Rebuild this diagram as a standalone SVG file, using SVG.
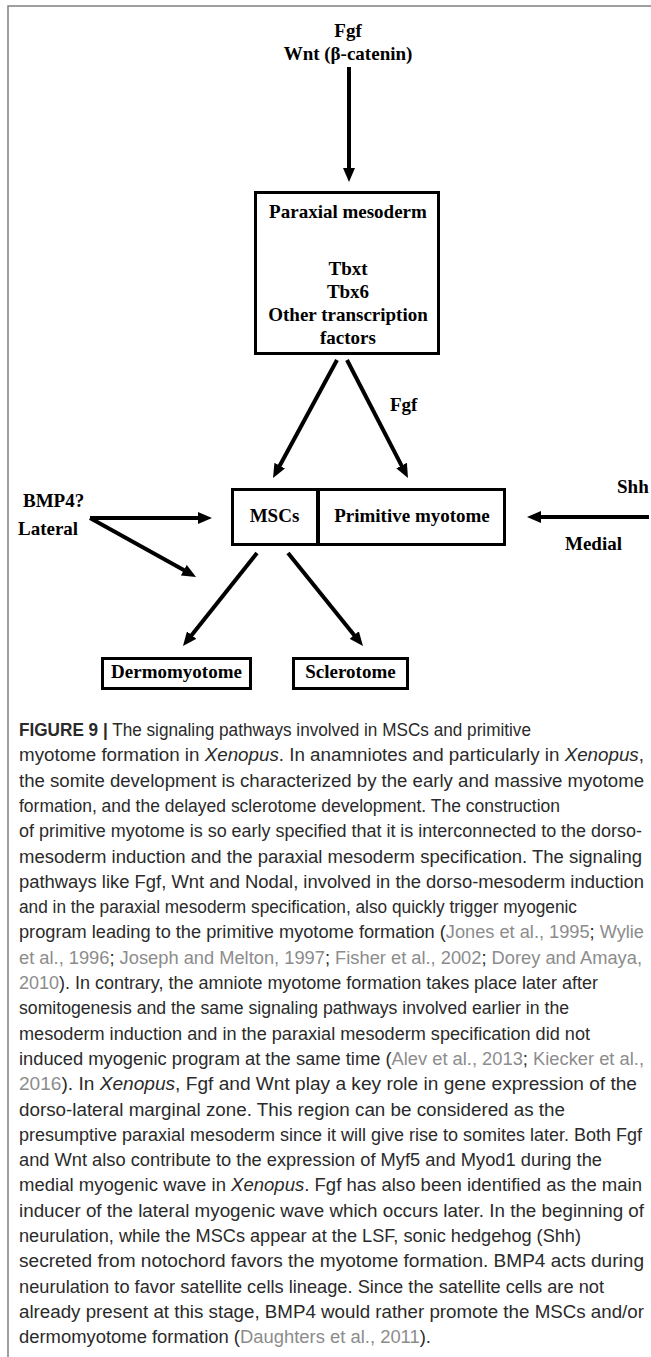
<svg xmlns="http://www.w3.org/2000/svg" width="651" height="1357" viewBox="0 0 651 1357">
<style>
.lbl{font-family:"Liberation Serif","Times New Roman",serif;font-weight:bold;font-size:19px;fill:#000}
.mid{text-anchor:middle}
.box{fill:#fff;stroke:#000;stroke-width:3}
.conn{stroke:#000;stroke-width:4;fill:none;marker-end:url(#ah)}
.cap{font-family:"Liberation Sans",Arial,sans-serif;font-size:17.5px;fill:#2a2a2a}
.ref{fill:#8c8c8c}
.it{font-style:italic}
.frame{stroke:#808080;stroke-width:1.5;fill:none}
</style>
<defs>
<marker id="ah" markerUnits="userSpaceOnUse" markerWidth="14" markerHeight="12" refX="4" refY="6" orient="auto">
<path d="M0,0 L14,6 L0,12 z" fill="#000"/>
</marker>
</defs>
<path class="frame" d="M651,6 H8 V1357"/>
<g id="connectors">
<line class="conn" x1="349" y1="67" x2="349" y2="172"/>
<line class="conn" x1="337" y1="360" x2="277.8" y2="469.2"/>
<line class="conn" x1="347" y1="360" x2="403.4" y2="469.1"/>
<line class="conn" x1="90" y1="518" x2="202" y2="518"/>
<line class="conn" x1="90" y1="518" x2="187.3" y2="572.1"/>
<line class="conn" x1="649" y1="517" x2="537" y2="517"/>
<line class="conn" x1="257" y1="553" x2="189.2" y2="638.2"/>
<line class="conn" x1="288" y1="553" x2="356.7" y2="638.2"/>
</g>
<g id="top-signals">
<text class="lbl mid" x="348" y="37">Fgf</text>
<text class="lbl mid" x="348" y="60">Wnt (β-catenin)</text>
</g>
<g id="paraxial-mesoderm">
<rect class="box" x="255.5" y="192.5" width="183" height="161"/>
<text class="lbl mid" x="348" y="218">Paraxial mesoderm</text>
<text class="lbl mid" x="348" y="275">Tbxt</text>
<text class="lbl mid" x="348" y="298">Tbx6</text>
<text class="lbl mid" x="348" y="321">Other transcription</text>
<text class="lbl mid" x="348" y="344">factors</text>
</g>
<g id="fgf-label">
<text class="lbl" x="390" y="411">Fgf</text>
</g>
<g id="msc-myotome">
<rect class="box" x="232.5" y="489.5" width="272" height="55"/>
<line x1="318" y1="489" x2="318" y2="546" stroke="#000" stroke-width="4"/>
<text class="lbl mid" x="274.5" y="522">MSCs</text>
<text class="lbl mid" x="412" y="522">Primitive myotome</text>
</g>
<g id="lateral">
<text class="lbl" x="23" y="507">BMP4?</text>
<text class="lbl" x="18" y="535">Lateral</text>
</g>
<g id="medial">
<text class="lbl" x="617" y="493">Shh</text>
<text class="lbl" x="565" y="550">Medial</text>
</g>
<g id="dermomyotome">
<rect class="box" x="102.5" y="658.5" width="148" height="30"/>
<text class="lbl mid" x="176.5" y="678">Dermomyotome</text>
</g>
<g id="sclerotome">
<rect class="box" x="293.5" y="658.5" width="114" height="30"/>
<text class="lbl mid" x="350.5" y="678">Sclerotome</text>
</g>
<g id="caption" class="cap">
<text x="19" y="736" textLength="512" lengthAdjust="spacingAndGlyphs"><tspan font-weight="bold">FIGURE 9 |</tspan> The signaling pathways involved in MSCs and primitive</text>
<text x="19" y="761.3" textLength="625" lengthAdjust="spacingAndGlyphs">myotome formation in <tspan class="it">Xenopus</tspan>. In anamniotes and particularly in <tspan class="it">Xenopus</tspan>,</text>
<text x="19" y="786.6" textLength="625" lengthAdjust="spacingAndGlyphs">the somite development is characterized by the early and massive myotome</text>
<text x="19" y="811.9" textLength="541" lengthAdjust="spacingAndGlyphs">formation, and the delayed sclerotome development. The construction</text>
<text x="19" y="837.2" textLength="623" lengthAdjust="spacingAndGlyphs">of primitive myotome is so early specified that it is interconnected to the dorso-</text>
<text x="19" y="862.5" textLength="623" lengthAdjust="spacingAndGlyphs">mesoderm induction and the paraxial mesoderm specification. The signaling</text>
<text x="19" y="887.8" textLength="625" lengthAdjust="spacingAndGlyphs">pathways like Fgf, Wnt and Nodal, involved in the dorso-mesoderm induction</text>
<text x="19" y="913.1" textLength="558" lengthAdjust="spacingAndGlyphs">and in the paraxial mesoderm specification, also quickly trigger myogenic</text>
<text x="19" y="938.4" textLength="625" lengthAdjust="spacingAndGlyphs">program leading to the primitive myotome formation (<tspan class="ref">Jones et al., 1995</tspan>; <tspan class="ref">Wylie</tspan></text>
<text x="19" y="963.7" textLength="623" lengthAdjust="spacingAndGlyphs"><tspan class="ref">et al., 1996</tspan>; <tspan class="ref">Joseph and Melton, 1997</tspan>; <tspan class="ref">Fisher et al., 2002</tspan>; <tspan class="ref">Dorey and Amaya,</tspan></text>
<text x="19" y="989" textLength="579" lengthAdjust="spacingAndGlyphs"><tspan class="ref">2010</tspan>). In contrary, the amniote myotome formation takes place later after</text>
<text x="19" y="1014.3" textLength="550" lengthAdjust="spacingAndGlyphs">somitogenesis and the same signaling pathways involved earlier in the</text>
<text x="19" y="1039.6" textLength="571" lengthAdjust="spacingAndGlyphs">mesoderm induction and in the paraxial mesoderm specification did not</text>
<text x="19" y="1064.9" textLength="625" lengthAdjust="spacingAndGlyphs">induced myogenic program at the same time (<tspan class="ref">Alev et al., 2013</tspan>; <tspan class="ref">Kiecker et al.,</tspan></text>
<text x="19" y="1090.2" textLength="618" lengthAdjust="spacingAndGlyphs"><tspan class="ref">2016</tspan>). In <tspan class="it">Xenopus</tspan>, Fgf and Wnt play a key role in gene expression of the</text>
<text x="19" y="1115.5" textLength="546" lengthAdjust="spacingAndGlyphs">dorso-lateral marginal zone. This region can be considered as the</text>
<text x="19" y="1140.8" textLength="623" lengthAdjust="spacingAndGlyphs">presumptive paraxial mesoderm since it will give rise to somites later. Both Fgf</text>
<text x="19" y="1166.1" textLength="583" lengthAdjust="spacingAndGlyphs">and Wnt also contribute to the expression of Myf5 and Myod1 during the</text>
<text x="19" y="1191.4" textLength="623" lengthAdjust="spacingAndGlyphs">medial myogenic wave in <tspan class="it">Xenopus</tspan>. Fgf has also been identified as the main</text>
<text x="19" y="1216.7" textLength="625" lengthAdjust="spacingAndGlyphs">inducer of the lateral myogenic wave which occurs later. In the beginning of</text>
<text x="19" y="1242" textLength="562" lengthAdjust="spacingAndGlyphs">neurulation, while the MSCs appear at the LSF, sonic hedgehog (Shh)</text>
<text x="19" y="1267.3" textLength="625" lengthAdjust="spacingAndGlyphs">secreted from notochord favors the myotome formation. BMP4 acts during</text>
<text x="19" y="1292.6" textLength="585" lengthAdjust="spacingAndGlyphs">neurulation to favor satellite cells lineage. Since the satellite cells are not</text>
<text x="19" y="1317.9" textLength="625" lengthAdjust="spacingAndGlyphs">already present at this stage, BMP4 would rather promote the MSCs and/or</text>
<text x="19" y="1343.2" textLength="412" lengthAdjust="spacingAndGlyphs">dermomyotome formation (<tspan class="ref">Daughters et al., 2011</tspan>).</text>
</g>
</svg>
